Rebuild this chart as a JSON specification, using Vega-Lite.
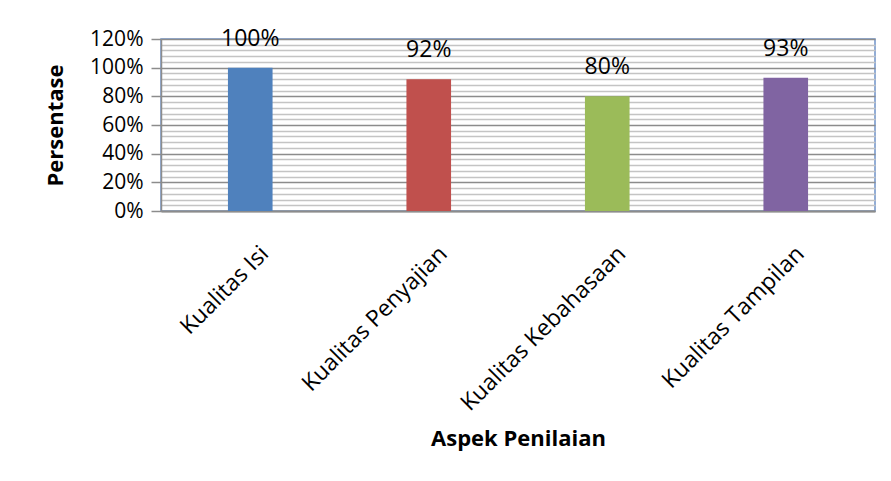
{
  "$schema": "https://vega.github.io/schema/vega-lite/v6.json",
  "autosize": {"type": "none"},
  "padding": {"left": 161, "top": 39, "right": 16, "bottom": 271},
  "width": 714,
  "height": 172,
  "background": "white",
  "config": {
    "font": "Open Sans",
    "view": {"stroke": "#6f93c9", "strokeWidth": 1.5}
  },
  "data": {
    "values": [
      {"aspek": "Kualitas Isi", "nilai": 1.0},
      {"aspek": "Kualitas Penyajian", "nilai": 0.92},
      {"aspek": "Kualitas Kebahasaan", "nilai": 0.80},
      {"aspek": "Kualitas Tampilan", "nilai": 0.93}
    ]
  },
  "encoding": {
    "x": {
      "field": "aspek",
      "type": "nominal",
      "sort": null,
      "scale": {"paddingInner": 0.75, "paddingOuter": 0.375},
      "axis": {
        "title": "Aspek Penilaian",
        "titleFont": "Open Sans",
        "titleFontSize": 22,
        "titleFontWeight": "bold",
        "titleColor": "black",
        "titlePadding": 17,
        "labelAngle": -45,
        "labelFontSize": 23,
        "labelColor": "black",
        "labelPadding": 31,
        "labelOffset": 7,
        "labelLimit": 400,
        "ticks": false,
        "domainColor": "#8c8c8c",
        "domainWidth": 2,
        "grid": false
      }
    }
  },
  "layer": [
    {
      "mark": {"type": "bar"},
      "encoding": {
        "y": {
          "field": "nilai",
          "type": "quantitative",
          "scale": {"domain": [0, 1.2], "nice": false},
          "axis": {
            "title": "Persentase",
            "titleFontSize": 22,
            "titleFontWeight": "bold",
            "titleColor": "black",
            "titlePadding": 22,
            "values": [0, 0.2, 0.4, 0.6, 0.8, 1.0, 1.2],
            "format": ".0%",
            "labelFontSize": 21,
            "labelColor": "black",
            "labelPadding": 8,
            "tickSize": 10,
            "tickColor": "#8c8c8c",
            "tickWidth": 1.5,
            "domainColor": "#8c8c8c",
            "domainWidth": 1.5,
            "grid": true,
            "gridColor": "#8c8c8c",
            "gridWidth": 1.5
          }
        },
        "color": {
          "field": "aspek",
          "type": "nominal",
          "sort": null,
          "scale": {"range": ["#4f81bd", "#c0504d", "#9bbb59", "#8064a2"]},
          "legend": null
        }
      }
    },
    {
      "mark": {"type": "text", "baseline": "middle", "dy": -29, "fontSize": 23, "color": "black"},
      "encoding": {
        "y": {
          "field": "nilai",
          "type": "quantitative",
          "axis": {
            "orient": "right",
            "title": null,
            "labels": false,
            "ticks": false,
            "domain": false,
            "grid": true,
            "gridColor": "#c4c4c4",
            "gridWidth": 1.5,
            "values": [0.04, 0.08, 0.12, 0.16, 0.24, 0.28, 0.32, 0.36, 0.44, 0.48, 0.52, 0.56, 0.64, 0.68, 0.72, 0.76, 0.84, 0.88, 0.92, 0.96, 1.04, 1.08, 1.12, 1.16]
          }
        },
        "text": {"field": "nilai", "type": "quantitative", "format": ".0%"}
      }
    }
  ],
  "resolve": {"axis": {"y": "independent"}}
}
